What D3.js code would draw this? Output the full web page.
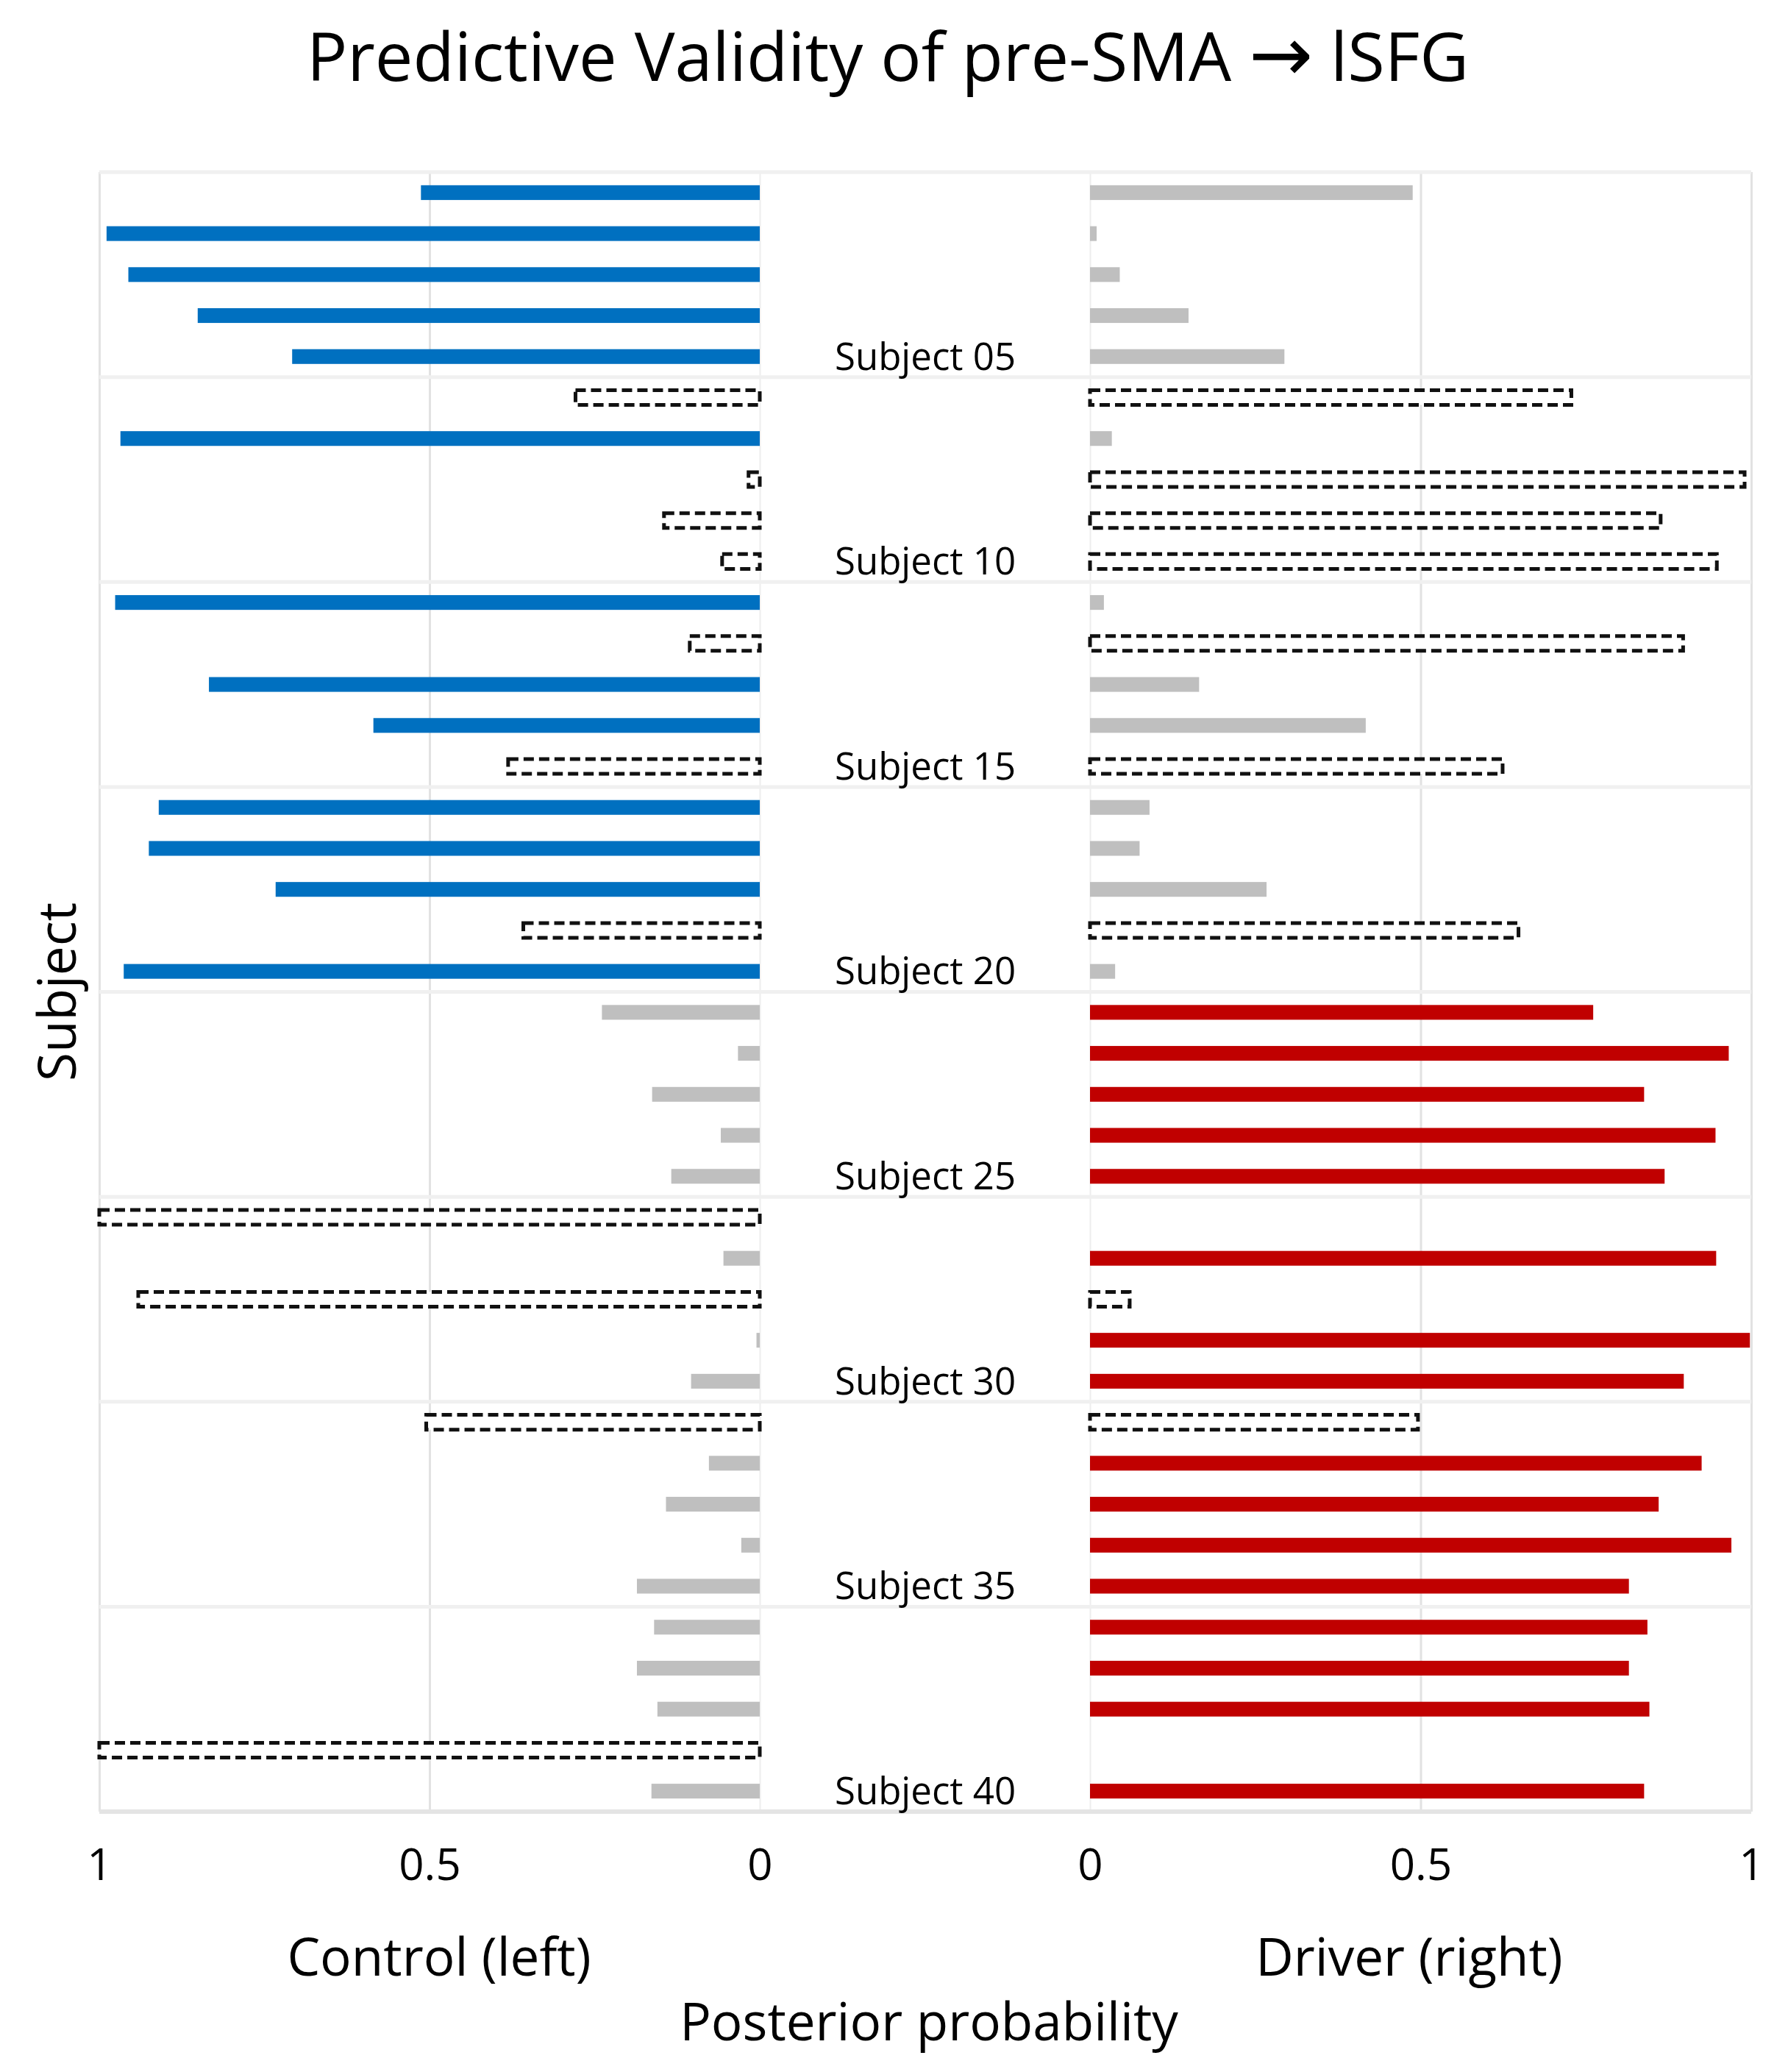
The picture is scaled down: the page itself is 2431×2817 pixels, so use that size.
<!DOCTYPE html>
<html>
<head>
<meta charset="utf-8">
<script src="https://cdn.jsdelivr.net/npm/d3@7"></script>
<style>
  body { margin: 0; background: #fff; }
  text { font-family: "Open Sans", "Noto Sans", sans-serif; fill: #000; }
</style>
</head>
<body>
<svg id="chart" width="2431" height="2817"></svg>
<script>
// subjects, top to bottom
var subjects = ["Subject 01","Subject 02","Subject 03","Subject 04","Subject 05",
	"Subject 06","Subject 07","Subject 08","Subject 09","Subject 10",
	"Subject 11","Subject 12","Subject 13","Subject 14","Subject 15",
	"Subject 16","Subject 17","Subject 18","Subject 19","Subject 20",
	"Subject 21","Subject 22","Subject 23","Subject 24","Subject 25",
	"Subject 26","Subject 27","Subject 28","Subject 29","Subject 30",
	"Subject 31","Subject 32","Subject 33","Subject 34","Subject 35",
	"Subject 36","Subject 37","Subject 38","Subject 39","Subject 40"];

// true group of each subject
var groups = ["Control","Control","Control","Control","Control",
	"Control","Control","Control","Control","Control",
	"Control","Control","Control","Control","Control",
	"Control","Control","Control","Control","Control",
	"Driver","Driver","Driver","Driver","Driver",
	"Driver","Driver","Driver","Driver","Driver",
	"Driver","Driver","Driver","Driver","Driver",
	"Driver","Driver","Driver","Driver","Driver"];

// posterior probability of "control" (left panel)
var controlProb = [0.513, 0.989, 0.956, 0.851, 0.708,
	0.279, 0.968, 0.017, 0.145, 0.057,
	0.976, 0.106, 0.834, 0.585, 0.381,
	0.910, 0.925, 0.733, 0.358, 0.963,
	0.239, 0.033, 0.163, 0.059, 0.134,
	1.000, 0.055, 0.941, 0.005, 0.104,
	0.505, 0.077, 0.142, 0.028, 0.186,
	0.160, 0.186, 0.155, 1.000, 0.164];

// posterior probability of "driver" (right panel)
var driverProb = [0.488, 0.010, 0.045, 0.149, 0.294,
	0.728, 0.033, 0.990, 0.863, 0.948,
	0.021, 0.897, 0.165, 0.417, 0.624,
	0.090, 0.075, 0.267, 0.648, 0.038,
	0.761, 0.966, 0.838, 0.946, 0.869,
	0.000, 0.947, 0.060, 0.998, 0.898,
	0.496, 0.925, 0.860, 0.970, 0.815,
	0.843, 0.815, 0.846, 0.000, 0.838];

var labelledSubjects = ["Subject 05","Subject 10","Subject 15","Subject 20",
	"Subject 25","Subject 30","Subject 35","Subject 40"];
var tickValues = [1, 0.5, 0];

var svg = d3.select("#chart");
var plotTop = 234, plotBottom = 2463;

var xL = d3.scaleLinear().domain([0, 1]).range([1033, 135]);
var xR = d3.scaleLinear().domain([0, 1]).range([1482, 2381]);
var y = d3.scaleBand().domain(subjects).range([plotTop, plotBottom])
	.paddingInner(0.64).paddingOuter(0.32);

var data = subjects.map(function (s, i) {
	var predicted = controlProb[i] >= driverProb[i] ? "Control" : "Driver";
	return {subject: s, group: groups[i], control: controlProb[i], driver: driverProb[i],
		correct: predicted === groups[i]};
});

// grid: vertical lines through each panel
[xL, xR].forEach(function (x) {
	var grid = svg.append("g")
		.attr("transform", "translate(0," + plotBottom + ")")
		.call(d3.axisBottom(x).tickValues([0, 0.5, 1]).tickSize(-(plotBottom - plotTop)).tickFormat(""));
	grid.select(".domain").remove();
	grid.selectAll(".tick line").attr("stroke", function (d) { return d === 0 ? "#eeeeee" : "#e2e2e2"; })
		.attr("stroke-width", function (d) { return d === 0 ? 2 : 3; });
});

// horizontal separators every 5 subjects
var pad = (y.step() - y.bandwidth()) / 2;
var seps = subjects.filter(function (s, i) { return i % 5 === 0; })
	.map(function (s) { return y(s) - pad; });
seps.push(plotBottom);
svg.append("g").selectAll("line")
	.data(seps)
	.enter().append("line")
	.attr("x1", xL(1)).attr("x2", xR(1))
	.attr("y1", function (d) { return d; })
	.attr("y2", function (d) { return d; })
	.attr("stroke", function (d, i) { return i === seps.length - 1 ? "#e4e4e4" : "#f0f0f0"; })
	.attr("stroke-width", function (d, i) { return i === seps.length - 1 ? 6 : 5; });

function fillFor(d, side) {
	if (!d.correct) return "#ffffff";
	if (d.group === side) return side === "Control" ? "#0070c0" : "#c00000";
	return "#bfbfbf";
}

// left bars (control)
svg.append("g").selectAll("rect")
	.data(data)
	.enter().append("rect")
	.attr("x", function (d) { return xL(d.control); })
	.attr("y", function (d) { return y(d.subject); })
	.attr("width", function (d) { return xL(0) - xL(d.control); })
	.attr("height", y.bandwidth())
	.attr("fill", function (d) { return fillFor(d, "Control"); })
	.attr("stroke", function (d) { return d.correct ? "none" : "#111"; })
	.attr("stroke-width", 5)
	.attr("stroke-dasharray", "14,7");

// right bars (driver)
svg.append("g").selectAll("rect")
	.data(data)
	.enter().append("rect")
	.attr("x", xR(0))
	.attr("y", function (d) { return y(d.subject); })
	.attr("width", function (d) { return xR(d.driver) - xR(0); })
	.attr("height", y.bandwidth())
	.attr("fill", function (d) { return fillFor(d, "Driver"); })
	.attr("stroke", function (d) { return d.correct ? "none" : (d.driver > 0 ? "#111" : "#dddddd"); })
	.attr("stroke-width", function (d) { return d.driver > 0 ? 5 : 2; })
	.attr("stroke-dasharray", function (d) { return d.driver > 0 ? "14,7" : null; });

// subject labels in the middle
svg.append("g").selectAll("text")
	.data(labelledSubjects)
	.enter().append("text")
	.attr("x", 1258)
	.attr("y", function (s) { return y(s) + y.bandwidth() / 2; })
	.attr("dy", "0.35em")
	.attr("text-anchor", "middle")
	.style("font-size", "51px")
	.text(function (s) { return s; });

// tick labels
[xL, xR].forEach(function (x) {
	var ax = svg.append("g")
		.attr("transform", "translate(0," + plotBottom + ")")
		.call(d3.axisBottom(x).tickValues(tickValues).tickSize(0).tickPadding(50).tickFormat(d3.format("")));
	ax.select(".domain").remove();
	ax.attr("font-family", null);
	ax.selectAll("text").style("font-size", "60px").attr("fill", "#000");
});

// title
var title = svg.append("text")
	.attr("x", 1207).attr("y", 110)
	.attr("text-anchor", "middle")
	.style("font-size", "92px");
title.append("tspan").text("Predictive Validity of pre-SMA ");
title.append("tspan").style("font-family", "'DejaVu Sans'").style("font-size", "104px").text("\u2192");
title.append("tspan").text(" lSFG");

// axis titles
svg.append("text")
	.attr("x", 597).attr("y", 2686)
	.attr("text-anchor", "middle")
	.style("font-size", "71px")
	.text("Control (left)");

svg.append("text")
	.attr("x", 1916).attr("y", 2686)
	.attr("text-anchor", "middle")
	.style("font-size", "71px")
	.text("Driver (right)");

svg.append("text")
	.attr("x", 1263).attr("y", 2774)
	.attr("text-anchor", "middle")
	.style("font-size", "71px")
	.text("Posterior probability");

svg.append("text")
	.attr("transform", "translate(103," + ((plotTop + plotBottom) / 2) + ") rotate(-90)")
	.attr("text-anchor", "middle")
	.style("font-size", "71px")
	.text("Subject");
</script>
</body>
</html>
